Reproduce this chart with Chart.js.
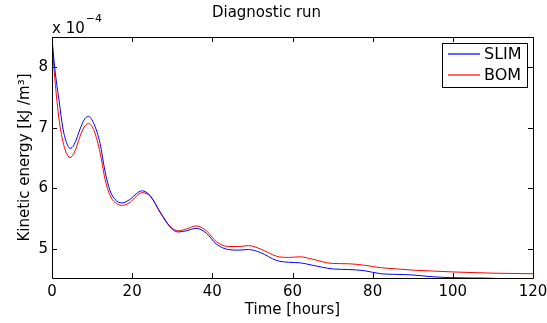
<!DOCTYPE html>
<html>
<head>
<meta charset="utf-8">
<script src="https://cdn.jsdelivr.net/npm/chart.js@4.4.1/dist/chart.umd.min.js"></script>
<style>
  html, body { margin: 0; padding: 0; background: #fff; }
  #wrap { width: 547px; height: 323px; }
</style>
</head>
<body>
<div id="wrap"><canvas id="c" width="547" height="323"></canvas></div>
<script>
// Time in hours
const times = [0, 0.7, 1.8, 2.7, 3.5, 4.5, 5.5, 7, 8, 9.1, 10.5, 12, 13.2, 14.5, 15.7, 17.4, 19.5, 21, 22.4, 24.5, 27, 29.5, 31.5, 33.5, 36, 38.5, 41, 44, 46.5, 49, 52, 56, 59, 62, 65, 70, 74, 78, 82, 86, 90, 95, 100, 105, 110, 115, 120];
// Kinetic energy, units of 1e-4 kJ/m^3
const slim = [8.48, 7.98, 7.43, 7.00, 6.78, 6.66, 6.72, 6.98, 7.13, 7.19, 7.06, 6.74, 6.29, 5.96, 5.82, 5.76, 5.82, 5.91, 5.96, 5.88, 5.60, 5.36, 5.28, 5.30, 5.34, 5.26, 5.08, 4.99, 4.98, 4.99, 4.94, 4.81, 4.78, 4.77, 4.73, 4.67, 4.66, 4.64, 4.59, 4.58, 4.57, 4.54, 4.525, 4.52, 4.515, 4.50, 4.49];
const bom  = [8.45, 7.82, 7.12, 6.78, 6.60, 6.51, 6.58, 6.86, 7.01, 7.07, 6.95, 6.59, 6.16, 5.88, 5.77, 5.72, 5.77, 5.87, 5.93, 5.87, 5.61, 5.37, 5.30, 5.33, 5.38, 5.30, 5.12, 5.04, 5.04, 5.055, 5.00, 4.88, 4.86, 4.87, 4.83, 4.76, 4.755, 4.73, 4.69, 4.67, 4.65, 4.635, 4.62, 4.61, 4.60, 4.595, 4.59];
const xTicks = [0, 20, 40, 60, 80, 100, 120];
const yTicks = [5, 6, 7, 8];
const seriesNames = ['SLIM', 'BOM'];
const seriesColors = ['#0000ff', '#ff0000'];

const FONT = 'DejaVu Sans';

const framePlugin = {
  id: 'frame',
  afterDraw(chart) {
    const {ctx, chartArea: a, scales: {x, y}} = chart;
    ctx.save();
    ctx.strokeStyle = '#000';
    ctx.lineWidth = 1;
    ctx.beginPath();
    ctx.rect(Math.round(a.left) + 0.5, Math.round(a.top) + 0.5, Math.round(a.right - a.left), Math.round(a.bottom - a.top));
    ctx.stroke();
    const L = 5;
    ctx.beginPath();
    x.ticks.forEach(t => {
      const px = Math.round(x.getPixelForValue(t.value)) + 0.5;
      ctx.moveTo(px, a.bottom); ctx.lineTo(px, a.bottom - L);
      ctx.moveTo(px, a.top); ctx.lineTo(px, a.top + L);
    });
    y.ticks.forEach(t => {
      const py = Math.round(y.getPixelForValue(t.value)) + 0.5;
      ctx.moveTo(a.left, py); ctx.lineTo(a.left + L, py);
      ctx.moveTo(a.right, py); ctx.lineTo(a.right - L, py);
    });
    ctx.stroke();

    // exponent label
    ctx.fillStyle = '#000';
    ctx.textBaseline = 'alphabetic';
    ctx.textAlign = 'left';
    ctx.font = '15px "' + FONT + '"';
    ctx.fillText('x 10', a.left, 33);
    const w = ctx.measureText('x 10').width;
    ctx.font = '11px "' + FONT + '"';
    ctx.fillText('\u22124', a.left + w + 1, 22);

    // legend
    const lx = 442.5, ly = 43.5, lw = 85, lh = 44;
    ctx.fillStyle = '#fff';
    ctx.fillRect(lx, ly, lw, lh);
    ctx.strokeStyle = '#000';
    ctx.strokeRect(lx, ly, lw, lh);
    ctx.font = '16px "' + FONT + '"';
    ctx.textBaseline = 'middle';
    chart.data.datasets.forEach((ds, i) => {
      const yy = 54 + i * 21;
      ctx.strokeStyle = seriesColors[i];
      ctx.lineWidth = 1.2;
      ctx.beginPath();
      ctx.moveTo(448, yy); ctx.lineTo(480, yy);
      ctx.stroke();
      ctx.fillStyle = '#000';
      ctx.fillText(ds.label, 484, yy + 1);
    });
    ctx.restore();
  }
};

new Chart(document.getElementById('c'), {
  type: 'line',
  data: {
    datasets: [
      { label: seriesNames[0], data: times.map((t, i) => ({x: t, y: slim[i]})), borderColor: seriesColors[0], borderWidth: 1, pointRadius: 0, cubicInterpolationMode: 'monotone', fill: false },
      { label: seriesNames[1], data: times.map((t, i) => ({x: t, y: bom[i]})), borderColor: seriesColors[1], borderWidth: 1, pointRadius: 0, cubicInterpolationMode: 'monotone', fill: false }
    ]
  },
  options: {
    responsive: false,
    animation: false,
    events: [],
    layout: { padding: { left: 0, right: 14, top: 0, bottom: 0 } },
    plugins: {
      legend: { display: false },
      tooltip: { enabled: false },
      title: { display: true, text: 'Diagnostic run', color: '#000', font: { family: FONT, size: 15, weight: 'normal' }, padding: { top: 4, bottom: 15 } }
    },
    scales: {
      x: {
        type: 'linear', min: 0, max: 120,
        afterBuildTicks: s => { s.ticks = xTicks.map(v => ({value: v})); },
        afterFit: s => { s.height = 45; s.paddingRight = 0; s.paddingLeft = 0; },
        grid: { display: false, drawTicks: false },
        border: { display: false },
        ticks: { color: '#000', font: { family: FONT, size: 15 }, padding: 5, maxRotation: 0 },
        title: { display: true, text: 'Time [hours]', color: '#000', font: { family: FONT, size: 15 }, padding: { bottom: 4, top: 0 } }
      },
      y: {
        type: 'linear', min: 4.52, max: 8.5,
        afterBuildTicks: s => { s.ticks = yTicks.map(v => ({value: v})); },
        afterFit: s => { s.width = 52; },
        grid: { display: false, drawTicks: false },
        border: { display: false },
        ticks: { color: '#000', font: { family: FONT, size: 15 }, padding: 4 },
        title: { display: true, text: 'Kinetic energy [kJ /m\u00b3]', color: '#000', font: { family: FONT, size: 15 }, padding: { top: 16, bottom: 0 } }
      }
    }
  },
  plugins: [framePlugin]
});
</script>
</body>
</html>
